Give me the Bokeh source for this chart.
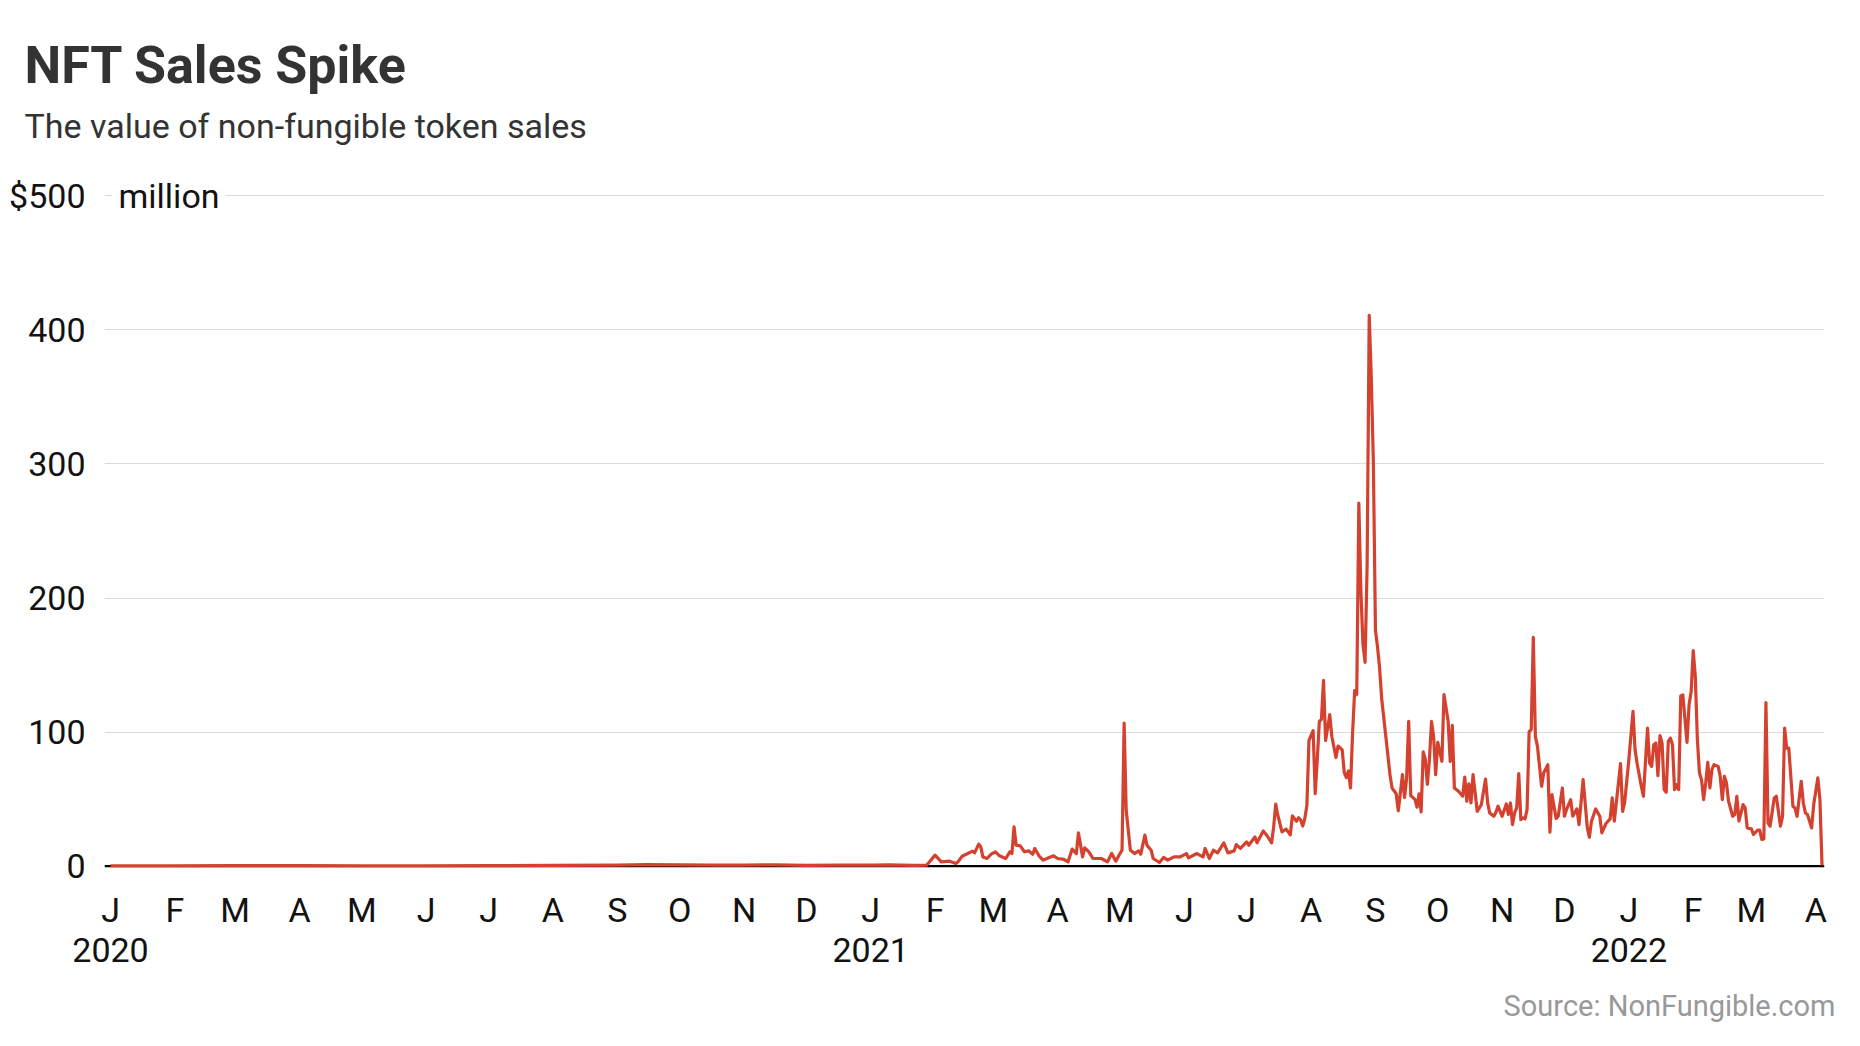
import pandas as pd
from bokeh.plotting import figure
from bokeh.models import FixedTicker, LinearAxis, Span, Label, Range1d, Title
from bokeh.embed import file_html
from bokeh.resources import INLINE

# ---------------- data (daily NFT sales value, $ million) ----------------
dates = [
    "2020-01-01", "2020-01-31", "2020-03-01", "2020-04-01", "2020-05-01", "2020-06-01",
    "2020-07-01", "2020-08-01", "2020-09-01", "2020-09-15", "2020-10-01", "2020-10-17",
    "2020-11-01", "2020-11-16", "2020-12-01", "2020-12-16", "2021-01-01", "2021-01-10",
    "2021-01-15", "2021-01-22", "2021-01-28",
    "2021-02-01", "2021-02-04", "2021-02-08", "2021-02-11", "2021-02-12", "2021-02-14",
    "2021-02-16", "2021-02-19", "2021-02-20", "2021-02-22", "2021-02-23", "2021-02-24",
    "2021-02-26", "2021-02-28", "2021-03-02", "2021-03-04", "2021-03-07", "2021-03-09",
    "2021-03-10", "2021-03-11", "2021-03-12", "2021-03-14", "2021-03-16", "2021-03-18",
    "2021-03-20", "2021-03-21", "2021-03-23", "2021-03-25", "2021-03-28", "2021-03-30",
    "2021-04-01", "2021-04-04", "2021-04-06", "2021-04-08", "2021-04-10", "2021-04-11",
    "2021-04-13", "2021-04-14", "2021-04-16", "2021-04-18", "2021-04-22", "2021-04-25",
    "2021-04-27", "2021-04-29", "2021-05-01", "2021-05-02", "2021-05-03", "2021-05-04",
    "2021-05-06", "2021-05-08", "2021-05-10", "2021-05-11", "2021-05-13", "2021-05-14",
    "2021-05-16", "2021-05-17", "2021-05-20", "2021-05-22", "2021-05-24", "2021-05-27",
    "2021-05-30", "2021-06-02", "2021-06-03", "2021-06-07", "2021-06-10", "2021-06-11",
    "2021-06-13", "2021-06-15", "2021-06-17", "2021-06-20", "2021-06-22", "2021-06-25",
    "2021-06-26", "2021-06-28", "2021-07-01", "2021-07-02", "2021-07-05", "2021-07-06",
    "2021-07-09", "2021-07-11", "2021-07-13", "2021-07-14", "2021-07-15", "2021-07-16",
    "2021-07-18", "2021-07-20", "2021-07-22", "2021-07-23", "2021-07-25", "2021-07-26",
    "2021-07-27", "2021-07-28", "2021-07-29", "2021-07-30", "2021-07-31", "2021-08-02",
    "2021-08-03", "2021-08-04", "2021-08-05", "2021-08-06", "2021-08-07", "2021-08-08",
    "2021-08-10", "2021-08-11", "2021-08-13", "2021-08-14", "2021-08-16", "2021-08-17",
    "2021-08-18", "2021-08-19", "2021-08-20", "2021-08-21", "2021-08-22", "2021-08-23",
    "2021-08-24", "2021-08-25", "2021-08-26", "2021-08-27", "2021-08-28", "2021-08-29",
    "2021-08-30", "2021-08-31", "2021-09-01", "2021-09-02", "2021-09-03", "2021-09-04",
    "2021-09-06", "2021-09-08", "2021-09-09", "2021-09-11", "2021-09-12", "2021-09-14",
    "2021-09-15", "2021-09-16", "2021-09-17", "2021-09-18", "2021-09-20", "2021-09-21",
    "2021-09-22", "2021-09-23", "2021-09-24", "2021-09-25", "2021-09-26", "2021-09-27",
    "2021-09-28", "2021-09-29", "2021-09-30", "2021-10-01", "2021-10-02", "2021-10-03",
    "2021-10-04", "2021-10-06", "2021-10-07", "2021-10-08", "2021-10-09", "2021-10-11",
    "2021-10-13", "2021-10-14", "2021-10-15", "2021-10-16", "2021-10-17", "2021-10-18",
    "2021-10-20", "2021-10-22", "2021-10-24", "2021-10-25", "2021-10-26", "2021-10-28",
    "2021-10-29", "2021-10-30", "2021-11-01", "2021-11-03", "2021-11-04", "2021-11-05",
    "2021-11-06", "2021-11-07", "2021-11-08", "2021-11-09", "2021-11-10", "2021-11-11",
    "2021-11-12", "2021-11-13", "2021-11-14", "2021-11-15", "2021-11-16", "2021-11-17",
    "2021-11-18", "2021-11-20", "2021-11-21", "2021-11-23", "2021-11-24", "2021-11-25",
    "2021-11-27", "2021-11-28", "2021-11-30", "2021-12-01", "2021-12-02", "2021-12-04",
    "2021-12-05", "2021-12-07", "2021-12-08", "2021-12-10", "2021-12-12", "2021-12-13",
    "2021-12-14", "2021-12-16", "2021-12-18", "2021-12-19", "2021-12-21", "2021-12-23",
    "2021-12-24", "2021-12-25", "2021-12-28", "2021-12-29", "2021-12-30",
    "2022-01-01", "2022-01-03", "2022-01-04", "2022-01-05", "2022-01-07", "2022-01-08",
    "2022-01-10", "2022-01-11", "2022-01-12", "2022-01-13", "2022-01-14", "2022-01-15",
    "2022-01-16", "2022-01-17", "2022-01-18", "2022-01-19", "2022-01-20", "2022-01-21",
    "2022-01-22", "2022-01-23", "2022-01-24", "2022-01-25", "2022-01-26", "2022-01-27",
    "2022-01-29", "2022-01-30", "2022-01-31", "2022-02-01", "2022-02-02", "2022-02-03",
    "2022-02-04", "2022-02-05", "2022-02-06", "2022-02-07", "2022-02-08", "2022-02-09",
    "2022-02-10", "2022-02-11", "2022-02-13", "2022-02-14", "2022-02-15", "2022-02-16",
    "2022-02-17", "2022-02-18", "2022-02-20", "2022-02-21", "2022-02-22", "2022-02-23",
    "2022-02-25", "2022-02-26", "2022-02-27", "2022-03-01", "2022-03-02", "2022-03-04",
    "2022-03-05", "2022-03-06", "2022-03-07", "2022-03-08", "2022-03-09", "2022-03-10",
    "2022-03-12", "2022-03-13", "2022-03-15", "2022-03-16", "2022-03-17", "2022-03-18",
    "2022-03-19", "2022-03-21", "2022-03-22", "2022-03-23", "2022-03-25", "2022-03-26",
    "2022-03-27", "2022-03-28", "2022-03-30", "2022-03-31", "2022-04-02", "2022-04-03",
    "2022-04-04",
]

sales_musd = [
    0.3, 0.3, 0.4, 0.4, 0.3, 0.3,
    0.4, 0.5, 0.8, 1.2, 0.9, 0.7,
    0.8, 1.0, 0.6, 0.8, 0.7, 0.9,
    0.7, 0.6, 0.8,
    8.2, 3.2, 3.7, 2.0, 3.2, 7.4,
    8.9, 11.2, 9.9, 16.4, 14.4, 6.9,
    5.7, 8.9, 10.7, 7.7, 5.7, 10.7,
    9.4, 29.3, 15.6, 15.1, 10.7, 11.4,
    8.9, 13.2, 7.7, 4.5, 6.5, 7.7,
    5.7, 5.0, 3.2, 12.7, 9.4, 24.8,
    6.9, 13.6, 10.7, 5.7, 5.7, 3.2,
    9.4, 3.7, 9.4, 11.9, 106.7, 41.7,
    11.9, 9.4, 11.4, 8.9, 23.1, 15.6,
    11.9, 5.7, 2.7, 6.5, 4.5, 6.9,
    6.9, 9.4, 6.2, 9.4, 6.9, 13.2,
    5.7, 11.9, 9.9, 17.4, 9.9, 11.4,
    16.1, 13.2, 18.1, 15.6, 21.8, 17.4,
    26.3, 22.3, 17.4, 29.3, 46.2, 38.0,
    25.6, 27.6, 23.3, 37.5, 33.5, 36.1,
    34.4, 29.9, 35.5, 45.5, 93.8, 101.0,
    54.0, 79.6, 108.0, 109.5, 138.5, 93.8,
    113.0, 96.7, 81.0, 89.6, 86.7, 69.7,
    66.0, 71.0, 58.3, 99.5, 131.0, 128.0,
    270.7, 204.7, 165.0, 152.0, 224.6, 410.9,
    364.0, 301.0, 176.0, 163.5, 147.9, 125.0,
    96.7, 68.2, 58.3, 54.0, 41.2, 68.2,
    51.2, 65.4, 108.0, 52.6, 49.8, 44.0,
    54.0, 40.4, 85.3, 79.6, 61.0, 79.6,
    108.0, 96.7, 68.2, 92.4, 85.3, 78.2,
    128.0, 108.0, 78.2, 105.0, 58.3, 55.8,
    52.1, 66.5, 48.4, 61.3, 47.1, 68.2,
    40.9, 45.9, 65.0, 47.6, 39.7, 37.2,
    40.2, 44.7, 37.2, 46.4, 38.5, 47.1,
    31.0, 39.7, 43.4, 69.0, 34.7, 36.0,
    35.2, 42.2, 100.5, 101.7, 170.7, 96.8,
    89.3, 59.6, 69.5, 75.7, 25.3, 53.3,
    35.5, 37.2, 58.3, 37.2, 42.2, 49.6,
    37.2, 42.7, 31.0, 64.5, 28.5, 21.6,
    33.5, 42.7, 37.2, 24.8, 31.8, 35.2,
    50.9, 33.5, 76.4, 40.9, 47.6,
    79.4, 115.4, 86.8, 76.4, 59.6, 52.1,
    103.0, 76.9, 74.4, 90.6, 91.8, 67.5,
    97.3, 91.8, 57.1, 55.1, 93.0, 95.5,
    90.6, 57.1, 60.8, 57.1, 127.0, 127.8,
    92.3, 120.3, 130.3, 160.8, 141.4, 94.3,
    69.5, 64.5, 49.6, 62.0, 77.4, 58.3,
    72.0, 75.7, 74.4, 67.0, 49.6, 67.0,
    62.0, 48.4, 37.2, 38.5, 52.1, 33.5,
    45.9, 43.4, 28.5, 27.8, 23.6, 26.8,
    26.8, 19.9, 20.3, 122.0, 32.3, 29.8,
    50.9, 52.1, 29.8, 37.2, 103.0, 88.1,
    88.1, 44.7, 43.4, 37.2, 63.3, 47.1,
    39.7, 38.5, 28.5, 45.9, 65.8, 49.6,
    0.5,
]

month_letters = ["J", "F", "M", "A", "M", "J", "J", "A", "S", "O", "N", "D",
                 "J", "F", "M", "A", "M", "J", "J", "A", "S", "O", "N", "D",
                 "J", "F", "M", "A"]
year_labels = ["2020", "2021", "2022"]
y_ticks = [0, 100, 200, 300, 400, 500]
y_tick_labels = ["0", "100", "200", "300", "400", "$500"]
grid_ticks = [100, 200, 300, 400, 500]

title_text = "NFT Sales Spike"
subtitle_text = "The value of non-fungible token sales"
unit_text = "million"
source_text = "Source: NonFungible.com"

# ---------------- helpers ----------------
origin = pd.Timestamp("2020-01-01")
x_days = [(pd.Timestamp(d) - origin).days for d in dates]
month_starts = pd.date_range("2020-01-01", periods=len(month_letters), freq="MS")
month_days = [(m - origin).days for m in month_starts]
year_days = [(pd.Timestamp(f"{y}-01-01") - origin).days for y in year_labels]

FONT = "Roboto"
RED = "#d5412f"
INK = "#121212"
DARK = "#333333"

W, H = 1844, 1046
LEFT, RIGHT, TOP, BOTTOM = 104, 20, 150, 175
X0, X1 = -2.9, 825.2
Y0, Y1 = -4.0, 533.8

p = figure(width=W, height=H, output_backend="svg", toolbar_location=None,
           title=None,
           x_range=Range1d(X0, X1), y_range=Range1d(Y0, Y1),
           min_border_left=LEFT, min_border_right=RIGHT,
           min_border_top=TOP, min_border_bottom=BOTTOM)
p.outline_line_color = None
p.background_fill_color = "white"
p.border_fill_color = "white"

# grid
p.xgrid.visible = False
p.ygrid.ticker = FixedTicker(ticks=grid_ticks)
p.ygrid.grid_line_color = "#dcdcdc"
p.ygrid.grid_line_width = 1.2

# zero baseline
base = Span(location=0, dimension="width", line_color="#000000", line_width=2.2,
            level="underlay")
p.add_layout(base)

# data line
p.line(x_days, sales_musd, line_color=RED, line_width=3.2, line_join="round")


def style_axis(ax, standoff, size="34px"):
    ax.axis_line_color = None
    ax.major_tick_line_color = None
    ax.minor_tick_line_color = None
    ax.major_tick_out = 0
    ax.major_tick_in = 0
    ax.minor_tick_out = 0
    ax.minor_tick_in = 0
    ax.major_label_standoff = standoff
    ax.major_label_text_font = FONT
    ax.major_label_text_font_size = size
    ax.major_label_text_color = INK


# y axis
ya = p.yaxis[0]
ya.ticker = FixedTicker(ticks=y_ticks)
ya.major_label_overrides = {t: l for t, l in zip(y_ticks, y_tick_labels)}
style_axis(ya, 19)

# month axis
xa = p.xaxis[0]
xa.ticker = FixedTicker(ticks=month_days)
xa.major_label_overrides = {d: l for d, l in zip(month_days, month_letters)}
style_axis(xa, 18)

# year axis
yr = LinearAxis(ticker=FixedTicker(ticks=year_days),
                major_label_overrides={d: l for d, l in zip(year_days, year_labels)})
style_axis(yr, 5)
p.add_layout(yr, "below")

# source (below, outermost)
src = Title(text=source_text, align="right", offset=-11, standoff=44,
            text_font=FONT, text_font_size="29px", text_font_style="normal",
            text_color="#999999")
p.add_layout(src, "below")

# subtitle then title (above; later added sits further from the frame)
sub = Title(text=subtitle_text, align="left", offset=-80, standoff=10,
            text_font=FONT, text_font_size="34px", text_font_style="normal",
            text_color=DARK)
p.add_layout(sub, "above")
ttl = Title(text=title_text, align="left", offset=-80, standoff=6,
            text_font=FONT, text_font_size="52px", text_font_style="bold",
            text_color=DARK)
p.add_layout(ttl, "above")

# "million" next to the $500 tick, masking the gridline behind it
unit = Label(x=X0, y=500, x_offset=8, y_offset=0,
             text=unit_text, text_font=FONT, text_font_size="34px",
             text_color=INK, text_baseline="middle",
             background_fill_color="white", padding=6)
p.add_layout(unit)

open("out.html", "w").write(file_html(p, INLINE))
